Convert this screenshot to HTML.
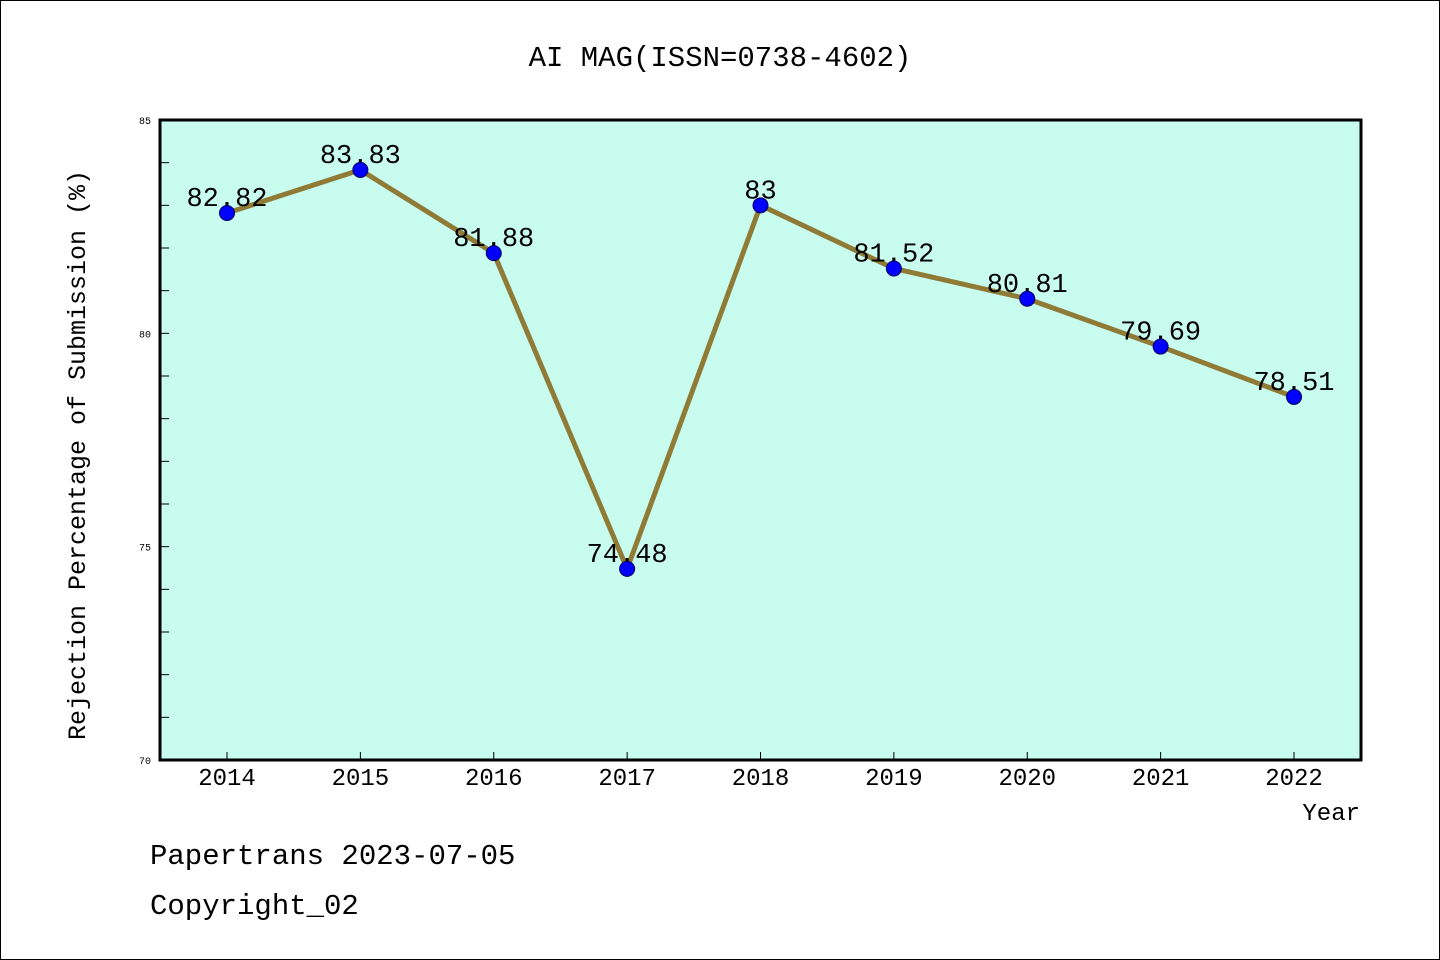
<!DOCTYPE html>
<html><head><meta charset="utf-8"><style>
html,body{margin:0;padding:0;background:#fff}
svg{display:block}
text{font-family:"WenQuanYi Zen Hei Mono","WenQuanYi Zen Hei","Liberation Mono",monospace;fill:#000}
</style></head><body>
<svg width="1440" height="960" viewBox="0 0 1440 960">
<rect x="0.5" y="0.5" width="1439" height="959" fill="#fff" stroke="#000"/>
<text x="720" y="66" font-size="29" text-anchor="middle">AI MAG(ISSN=0738-4602)</text>
<rect x="160" y="120" width="1201" height="640" fill="#c8fcef"/>
<g id="ticks"></g>
<g id="series"></g>
<rect x="160" y="120" width="1201" height="640" fill="none" stroke="#000" stroke-width="3"/>
<text transform="translate(85,455) rotate(-90)" font-size="25" text-anchor="middle">Rejection Percentage of Submission (%)</text>
<text x="1360" y="820" font-size="24" text-anchor="end">Year</text>
<text x="150" y="864" font-size="29">Papertrans 2023-07-05</text>
<text x="150" y="914" font-size="29">Copyright_02</text>
</svg>
<script>
const years=["2014","2015","2016","2017","2018","2019","2020","2021","2022"];
const values=[82.82,83.83,81.88,74.48,83,81.52,80.81,79.69,78.51];
const valueLabels=["82.82","83.83","81.88","74.48","83","81.52","80.81","79.69","78.51"];
const yTickLabels=["70","75","80","85"];
{
const NS="http://www.w3.org/2000/svg";
const yMin=70,yMax=85,plotTop=120,plotBottom=760;
function ys(v){return plotBottom-(v-yMin)/(yMax-yMin)*(plotBottom-plotTop);}
function xs(i){return 227+i*(1294-227)/(years.length-1);}
function mk(t,a,p){const e=document.createElementNS(NS,t);for(const k in a)e.setAttribute(k,a[k]);p.appendChild(e);return e;}
const tg=document.getElementById('ticks'),sg=document.getElementById('series');
for(let v=yMin;v<=yMax;v++){
  const t=mk('line',{x1:160,x2:169,y1:ys(v),y2:ys(v),stroke:'#000','stroke-width':1},tg);
  
  
}
yTickLabels.forEach(s=>{
  const t=mk('text',{x:151,y:ys(+s)+4,'font-size':10,'text-anchor':'end'},tg);t.textContent=s;
  
  
});
years.forEach((y,i)=>{
  const t=mk('line',{x1:xs(i),x2:xs(i),y1:760,y2:752,stroke:'#000','stroke-width':1},tg);
  
  
  const l=mk('text',{x:xs(i),y:785,'font-size':24,'text-anchor':'middle'},tg);l.textContent=y;
  
  
});
const pl=mk('polyline',{points:values.map((v,i)=>xs(i)+','+ys(v)).join(' '),fill:'none',stroke:'#8f7b35','stroke-width':5,'stroke-linejoin':'round'},sg);


values.forEach((v,i)=>{
  const l=mk('text',{x:xs(i),y:ys(v)-7,'font-size':27,'text-anchor':'middle'},sg);l.textContent=valueLabels[i];
  
  
});
values.forEach((v,i)=>{
  const c=mk('circle',{cx:xs(i),cy:ys(v),r:7.5,fill:'#0000ff',stroke:'#00005a','stroke-width':1},sg);
  
  
});
}
</script>
</body></html>
